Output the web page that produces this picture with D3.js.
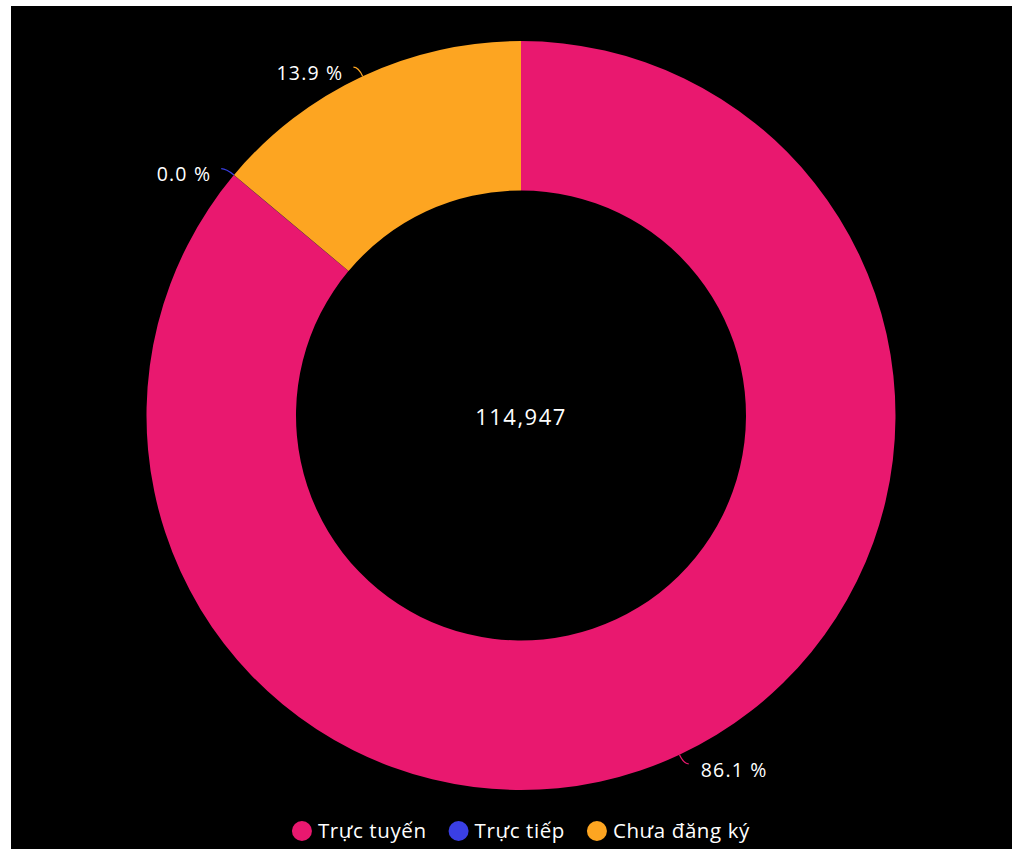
<!DOCTYPE html>
<html>
<head>
<meta charset="utf-8">
<script src="https://cdn.jsdelivr.net/npm/d3@7"></script>
<style>
  html, body { margin: 0; padding: 0; background: #fff; }
  svg { display: block; }
  text { font-family: "Open Sans", "Noto Sans", sans-serif; fill: #fff; }
</style>
</head>
<body>
<svg id="chart"></svg>
<script>
// data
var categories = ["Trực tuyến", "Trực tiếp", "Chưa đăng ký"];
var counts = [98960, 12, 15975];
var colors = ["#e9186f", "#3a3fe4", "#fda521"];

var width = 1012,
    height = 849;

var svg = d3.select("#chart")
  .attr("width", width)
  .attr("height", height);

// black panel (white strip on left / top like the screenshot)
svg.append("rect")
  .attr("x", 11)
  .attr("y", 6)
  .attr("width", width - 11)
  .attr("height", height - 6)
  .style("fill", "#000");

var cx = 521,
    cy = 415.5,
    outerR = 374.5,
    innerR = 225;

var total = d3.sum(counts);

var pie = d3.pie().sort(null).value(function (d) { return d; });
var arcs = pie(counts);

var arc = d3.arc().innerRadius(innerR).outerRadius(outerR);

var g = svg.append("g").attr("transform", "translate(" + cx + "," + cy + ")");

g.selectAll(".slice")
  .data(arcs)
  .enter()
  .append("path")
  .attr("class", "slice")
  .attr("d", arc)
  .style("fill", function (d, i) { return colors[i]; });

// label lines + labels
var fmtPct = function (v) { return (v / total * 100).toFixed(1) + " %"; };

arcs.forEach(function (d, i) {
  var a = (d.startAngle + d.endAngle) / 2;
  var sx = Math.sin(a), sy = -Math.cos(a);
  var right = sx >= 0;
  var p0 = [outerR * sx, outerR * sy];
  var p1 = [(outerR + 10) * sx, (outerR + 10) * sy];
  var p2 = [p1[0] + (right ? 5 : -5), p1[1]];

  g.append("path")
    .attr("d", "M" + p0 + " Q" + p1 + " " + p2)
    .style("fill", "none")
    .style("stroke", colors[i])
    .style("stroke-width", 1.2);

  g.append("text")
    .attr("x", p2[0] + (right ? 12 : -10))
    .attr("y", p2[1] + 6)
    .attr("dy", "0.35em")
    .attr("text-anchor", right ? "start" : "end")
    .style("font-size", "19.5px")
    .style("letter-spacing", "1.2px")
    .text(fmtPct(counts[i]));
});

// center total
g.append("text")
  .attr("x", 0)
  .attr("y", 2)
  .attr("dy", "0.35em")
  .attr("text-anchor", "middle")
  .style("font-size", "22px")
  .style("letter-spacing", "1.5px")
  .text(d3.format(",")(total));

// legend
var legend = svg.append("g").attr("class", "legend");
var items = legend.selectAll(".item")
  .data(categories)
  .enter()
  .append("g")
  .attr("class", "item");

items.append("circle")
  .attr("r", 10)
  .attr("cx", 10)
  .attr("cy", 0)
  .style("fill", function (d, i) { return colors[i]; });

items.append("text")
  .attr("x", 26)
  .attr("dy", "0.35em")
  .style("font-size", "20.5px")
  .style("letter-spacing", "0.6px")
  .text(function (d) { return d; });

var xpos = 0, offsets = [];
items.each(function () {
  offsets.push(xpos);
  xpos += this.getBBox().width + 22;
});
var legendW = xpos - 22;
var lx = cx - legendW / 2;
items.attr("transform", function (d, i) { return "translate(" + (lx + offsets[i]) + ",831)"; });
</script>
</body>
</html>
